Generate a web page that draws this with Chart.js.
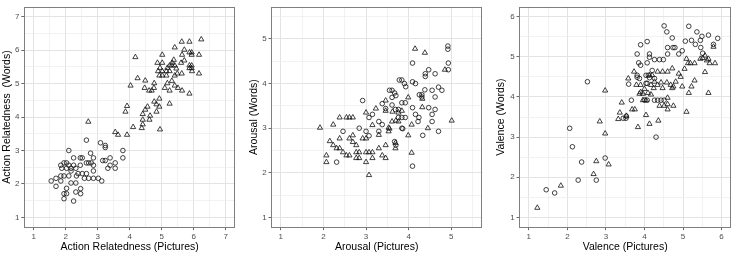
<!DOCTYPE html>
<html>
<head>
<meta charset="utf-8">
<script src="https://cdn.jsdelivr.net/npm/chart.js@4.4.1/dist/chart.umd.min.js"></script>
<style>
  body { margin: 0; background: #fff; }
  #wrap { position: relative; width: 736px; height: 255px; overflow: hidden; }
  canvas { position: absolute; top: 0; }
</style>
</head>
<body>
<div id="wrap">
  <canvas id="c1" width="240" height="255" style="left:0px"></canvas>
  <canvas id="c2" width="242" height="255" style="left:245px"></canvas>
  <canvas id="c3" width="246" height="255" style="left:490px"></canvas>
</div>
<script>
// tick labels for each panel
const actionTicks = [1, 2, 3, 4, 5, 6, 7];
const arousalTicks = [1, 2, 3, 4, 5];
const valenceTicks = [1, 2, 3, 4, 5, 6];

// panel 1: action relatedness, [pictures, words]
const actionCircles = [
  [2.65,3.31],[3.09,3.23],[3.24,3.15],[3.24,3.09],[3.79,3.0],[3.79,2.78],[2.10,3.0],[2.78,2.92],
  [2.25,2.78],[2.46,2.78],[2.52,2.78],[2.87,2.78],[3.16,2.70],[3.24,2.70],[3.39,2.78],[3.55,2.63],
  [3.39,2.56],[3.32,2.47],[3.55,2.47],[1.95,2.63],[2.03,2.63],[2.10,2.56],[2.25,2.56],[2.46,2.56],
  [2.65,2.63],[2.72,2.63],[2.80,2.63],[2.87,2.56],[1.85,2.56],[1.88,2.47],[2.03,2.47],[2.17,2.47],
  [2.32,2.47],[2.17,2.39],[2.39,2.31],[2.52,2.31],[2.65,2.31],[2.87,2.39],[1.85,2.24],[1.95,2.24],
  [2.10,2.24],[2.34,2.24],[2.59,2.17],[2.72,2.17],[2.87,2.17],[3.02,2.17],[3.13,2.09],[1.55,2.09],
  [1.70,2.17],[1.85,2.09],[2.17,2.03],[2.32,2.03],[1.70,1.93],[2.03,1.87],[2.47,1.86],[1.95,1.71],
  [2.03,1.71],[2.32,1.76],[2.47,1.71],[1.95,1.56],[2.25,1.49]
];
const actionTriangles = [
  [2.71,3.86],[3.55,3.55],[3.64,3.47],[3.92,3.47],[3.87,4.16],[3.92,4.33],[4.11,3.70],[4.38,3.67],
  [4.41,3.78],[4.41,3.92],[4.62,3.92],[4.41,4.09],[4.64,4.04],[4.49,4.22],[4.56,4.31],[4.84,4.16],
  [4.93,4.31],[4.84,4.38],[4.77,4.46],[4.93,4.55],[5.25,4.40],[4.95,3.63],[4.03,4.94],[4.25,5.16],
  [4.47,4.87],[4.49,5.09],[4.61,4.79],[4.69,4.79],[4.76,4.87],[4.77,5.01],[5.10,4.87],[5.25,4.79],
  [5.51,4.87],[5.64,4.79],[5.87,4.70],[5.18,5.01],[5.32,5.08],[5.41,4.94],[4.93,5.24],[5.02,5.24],
  [5.15,5.24],[5.41,5.24],[4.89,5.37],[5.02,5.37],[5.15,5.37],[5.25,5.37],[4.95,5.47],[5.18,5.47],
  [5.46,5.45],[5.49,5.30],[5.63,5.30],[5.95,5.37],[6.17,5.30],[5.87,5.46],[5.94,5.46],[5.87,5.54],
  [5.94,5.54],[5.25,5.54],[5.32,5.54],[5.41,5.54],[5.33,5.62],[5.61,5.62],[5.71,5.69],[5.38,5.71],
  [4.87,5.62],[5.02,5.62],[5.02,5.86],[5.64,5.86],[5.94,5.86],[6.17,5.86],[4.18,5.79],[5.87,5.93],
  [5.94,5.93],[5.71,6.01],[5.41,6.08],[5.63,6.25],[5.87,6.25],[6.24,6.32]
];

// panel 2: arousal
const arousalCircles = [
  [2.31,2.24],[2.46,2.93],[2.84,3.0],[2.92,3.62],[3.0,2.93],[3.07,2.83],[3.07,3.24],[3.15,3.31],
  [3.30,3.15],[3.38,3.08],[3.38,3.55],[3.46,3.44],[3.55,3.85],[3.61,3.85],[3.67,3.79],[3.70,3.73],
  [3.61,3.69],[3.61,3.52],[3.69,3.42],[3.76,3.42],[3.78,4.08],[3.84,4.08],[3.90,4.0],[3.93,3.93],
  [3.84,3.57],[3.92,3.57],[3.76,3.24],[3.84,3.24],[3.67,2.70],[3.70,2.62],[3.84,3.0],[3.92,3.24],
  [4.09,4.46],[4.09,4.04],[4.16,4.0],[4.09,3.46],[4.16,3.31],[4.24,3.24],[4.22,3.15],[4.25,3.75],
  [4.31,3.75],[4.31,3.70],[4.38,3.86],[4.55,3.85],[4.70,3.92],[4.78,3.85],[4.62,3.70],[4.47,4.31],
  [4.39,4.22],[4.39,4.16],[4.62,4.22],[4.47,3.46],[4.55,3.31],[4.62,3.42],[4.55,3.15],[4.33,2.84],
  [4.70,2.93],[4.09,2.15],[4.92,4.84],[4.92,4.77],[4.93,4.46],[4.93,4.31],[3.86,2.99],[3.30,2.93]
];
const arousalTriangles = [
  [1.92,3.01],[2.07,2.39],[2.07,2.24],[2.15,2.71],[2.23,3.08],[2.23,2.62],[2.31,2.55],[2.38,2.55],
  [2.38,3.24],[2.38,2.77],[2.46,2.46],[2.54,3.24],[2.61,3.24],[2.69,3.24],[2.54,2.39],[2.61,2.39],
  [2.61,2.77],[2.69,2.84],[2.69,2.69],[2.77,2.62],[2.77,2.46],[2.84,2.46],[2.77,2.33],[2.84,2.33],
  [2.92,2.77],[3.0,3.35],[3.0,2.77],[3.0,2.46],[3.07,2.46],[3.15,2.46],[3.0,2.24],[3.07,1.95],
  [3.15,2.33],[3.15,3.07],[3.23,3.44],[3.30,2.55],[3.30,2.85],[3.38,2.39],[3.46,2.33],[3.46,2.62],
  [3.46,3.39],[3.46,3.62],[3.53,3.01],[3.53,2.93],[3.61,3.15],[3.69,2.55],[3.69,2.67],[3.76,3.15],
  [3.76,3.35],[3.84,3.39],[3.99,2.84],[3.99,3.69],[4.07,2.45],[4.07,3.08],[4.15,4.78],[4.38,4.69],
  [4.32,3.66],[4.32,3.47],[4.45,3.0],[4.85,4.31],[5.01,3.17],[3.55,2.99],[3.62,3.37],[3.70,3.17]
];

// panel 3: valence
const valenceCircles = [
  [1.45,1.69],[1.67,1.61],[2.06,3.22],[2.13,2.76],[2.37,2.38],[2.28,1.93],[2.52,4.38],[2.98,2.48],
  [2.75,1.93],[3.45,3.47],[3.52,3.47],[3.53,3.52],[3.59,4.32],[3.66,3.92],[3.81,5.07],[3.85,4.85],
  [3.90,4.79],[3.90,5.30],[4.07,5.38],[4.13,5.07],[4.13,4.99],[4.07,4.85],[4.26,4.93],[4.39,4.93],
  [4.49,4.93],[3.81,4.54],[3.81,4.49],[4.04,4.54],[4.10,4.54],[4.13,4.48],[4.04,4.34],[4.07,4.34],
  [4.00,3.92],[4.07,3.92],[4.26,3.92],[4.34,3.92],[4.43,3.92],[4.51,3.92],[4.30,3.0],[4.51,5.77],
  [4.58,5.62],[4.60,5.23],[4.74,5.23],[4.79,5.23],[4.60,5.07],[4.72,5.47],[4.89,5.07],[4.98,5.15],
  [5.06,5.39],[5.15,5.76],[5.22,5.41],[5.32,5.31],[5.36,5.62],[5.45,5.41],[5.46,5.23],[5.49,5.51],
  [5.66,5.54],[5.51,5.09],[5.79,5.31],[5.90,5.46],[4.26,4.46],[4.20,4.66],[3.87,4.46]
];
const valenceTriangles = [
  [1.22,1.24],[1.83,1.79],[2.68,2.08],[2.75,2.40],[2.84,3.39],[2.98,4.16],[2.98,3.09],[3.07,2.32],
  [3.32,3.45],[3.36,3.61],[3.41,3.86],[3.53,3.53],[3.58,4.46],[3.68,3.69],[3.75,3.69],[3.73,4.63],
  [3.83,3.25],[3.79,4.30],[3.90,4.30],[3.90,4.12],[4.00,4.20],[3.87,4.08],[3.96,4.08],[3.96,3.92],
  [4.04,3.92],[4.04,3.55],[4.13,3.33],[4.09,4.10],[4.17,4.06],[4.13,4.54],[4.20,4.54],[4.17,4.30],
  [4.26,4.38],[4.24,4.22],[4.34,4.30],[4.43,4.36],[4.47,4.22],[4.58,4.36],[4.68,4.30],[4.72,4.22],
  [4.34,4.63],[4.47,4.63],[4.60,4.63],[4.72,4.71],[4.36,3.41],[4.39,3.78],[4.51,3.78],[4.60,3.82],
  [4.60,3.98],[4.60,3.69],[4.75,3.78],[4.75,4.26],[4.89,4.58],[4.94,4.50],[4.98,4.26],[5.04,4.70],
  [5.09,4.95],[5.13,4.84],[5.19,4.84],[5.09,3.63],[5.15,4.10],[5.22,4.26],[5.30,4.84],[5.30,4.41],
  [5.45,4.95],[5.51,4.97],[5.57,5.03],[5.62,4.91],[5.66,4.95],[5.69,4.84],[5.57,4.62],[5.66,4.10],
  [5.83,4.84],[5.79,5.25],[4.81,4.38]
];

Chart.defaults.font.family = '"Liberation Sans", Arial, sans-serif';

// draws the ggplot-style border round the panel
const frame = {
  id: 'frame',
  afterDraw(chart) {
    const a = chart.chartArea, c = chart.ctx;
    c.save();
    c.strokeStyle = '#7f7f7f';
    c.lineWidth = 1;
    c.strokeRect(Math.round(a.left) + 0.5, Math.round(a.top) + 0.5,
      Math.round(a.right) - Math.round(a.left) - 1, Math.round(a.bottom) - Math.round(a.top) - 1);
    c.restore();
  }
};

const isMajor = v => Math.abs(v - Math.round(v)) < 1e-6;

function axis(ticks, min, max, title, titlePad, horizontal, size) {
  return {
    type: 'linear',
    min: min,
    max: max,
    afterBuildTicks: (sc) => {
      const vals = [];
      ticks.forEach(t => { vals.push(t); vals.push(t + 0.5); vals.push(t - 0.5); });
      sc.ticks = [...new Set(vals)].filter(v => v >= min && v <= max)
        .sort((a, b) => a - b).map(v => ({ value: v }));
    },
    afterFit: (sc) => { if (horizontal) sc.height = size; else sc.width = size; },
    grid: {
      color: ctx => isMajor(ctx.tick.value) ? '#e3e3e3' : '#ececec',
      lineWidth: ctx => isMajor(ctx.tick.value) ? 1 : 0.7,
      tickLength: 2.7,
      tickWidth: 0.8,
      tickColor: ctx => isMajor(ctx.tick.value) ? '#444' : 'rgba(0,0,0,0)'
    },
    border: { display: false },
    ticks: {
      autoSkip: false,
      maxRotation: 0,
      padding: 1.8,
      color: '#4d4d4d',
      font: { size: 8 },
      callback: v => isMajor(v) ? String(Math.round(v)) : ''
    },
    title: {
      display: true,
      text: title,
      color: '#000',
      font: { size: 10.5 },
      padding: horizontal ? { top: 0, bottom: 1.4 } : { top: titlePad, bottom: 0 }
    }
  };
}

function panel(id, circles, triangles, ticks, min, max, xTitle, yTitle, yW, yTitlePad, padTop, padRight) {
  new Chart(document.getElementById(id), {
    type: 'scatter',
    data: {
      datasets: [
        { data: circles.map(p => ({ x: p[0], y: p[1] })), pointStyle: 'circle', pointRadius: 2.3,
          borderColor: '#111', borderWidth: 0.8, backgroundColor: 'rgba(0,0,0,0)' },
        { data: triangles.map(p => ({ x: p[0], y: p[1] })), pointStyle: 'triangle', pointRadius: 3,
          borderColor: '#111', borderWidth: 0.8, backgroundColor: 'rgba(0,0,0,0)' }
      ]
    },
    options: {
      responsive: false,
      animation: false,
      devicePixelRatio: 1,
      layout: { padding: { left: 0, top: padTop, right: padRight, bottom: 0 } },
      plugins: { legend: { display: false }, tooltip: { enabled: false } },
      scales: {
        x: axis(ticks, min, max, xTitle, 0, true, 27.5),
        y: axis(ticks, min, max, yTitle, yTitlePad, false, yW)
      }
    },
    plugins: [frame]
  });
}

panel('c1', actionCircles, actionTriangles, actionTicks, 0.7, 7.3,
  'Action Relatedness (Pictures)', 'Action Relatedness  (Words)', 24, 1, 1.4, 1.2);
panel('c2', arousalCircles, arousalTriangles, arousalTicks, 0.775, 5.725,
  'Arousal (Pictures)', 'Arousal (Words)', 26.2, 2.9, 1.05, 0.8);
panel('c3', valenceCircles, valenceTriangles, valenceTicks, 0.75, 6.25,
  'Valence (Pictures)', 'Valence (Words)', 29.2, 4.4, 1.4, 1.2);
</script>
</body>
</html>
